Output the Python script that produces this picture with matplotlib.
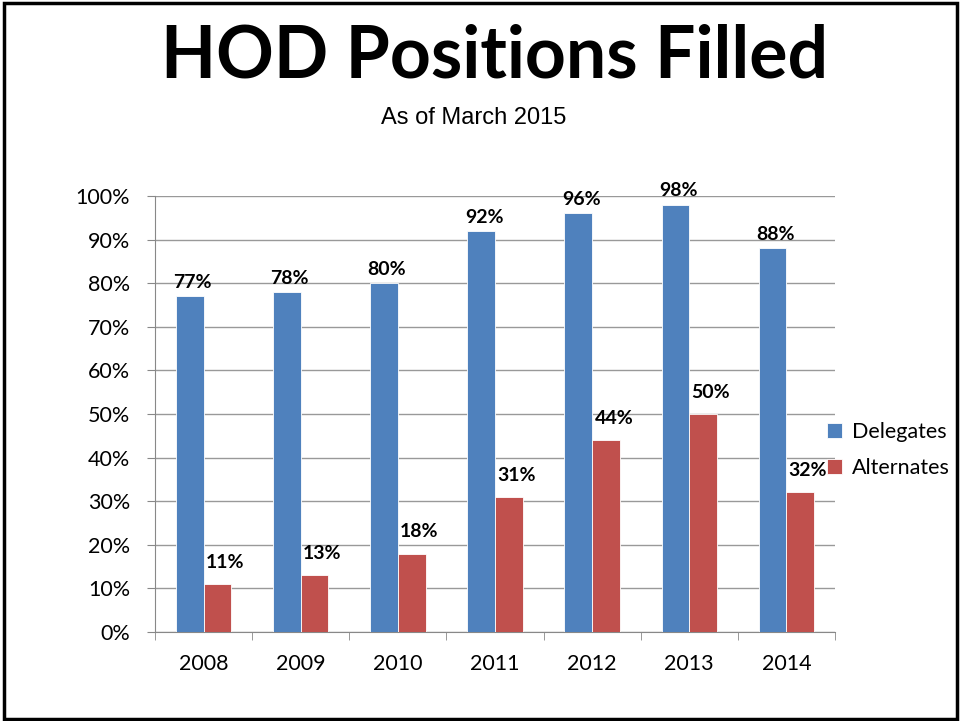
import numpy as np
import matplotlib
matplotlib.use('Agg')
import matplotlib.pyplot as plt
from matplotlib.patches import Rectangle

years = ['2008', '2009', '2010', '2011', '2012', '2013', '2014']
delegates = [77, 78, 80, 92, 96, 98, 88]
alternates = [11, 13, 18, 31, 44, 50, 32]

plt.rcParams['font.family'] = ['Lato', 'DejaVu Sans']

fig = plt.figure(figsize=(9.6, 7.21), dpi=100)
fig.patches.append(Rectangle((0.004, 0.003), 0.993, 0.993, transform=fig.transFigure,
                             fill=False, edgecolor='black', linewidth=2.5))

ax = fig.add_axes([155/960, 1-632/721, 680/960, 436/721])
x = np.arange(len(years))
w = 0.285
b1 = ax.bar(x - w/2, delegates, w, color='#4F81BD', edgecolor='white', linewidth=0.6, label='Delegates', zorder=3)
b2 = ax.bar(x + w/2, alternates, w, color='#C0504D', edgecolor='white', linewidth=0.6, label='Alternates', zorder=3)

for rect, v in zip(b1, delegates):
    ax.text(rect.get_x() + rect.get_width()/2 + 0.03, v + 1.2, f'{v}%', ha='center', va='bottom',
            fontsize=14, fontweight='bold')
for rect, v in zip(b2, alternates):
    ax.text(rect.get_x() + rect.get_width()/2 + 0.08, v + 3, f'{v}%', ha='center', va='bottom',
            fontsize=14, fontweight='bold')

ax.set_xlim(-0.5, len(years) - 0.5)
ax.set_ylim(0, 100)
ax.set_yticks(range(0, 101, 10))
ax.set_yticklabels([f'{t}%' for t in range(0, 101, 10)], fontsize=15.5)
ax.set_xticks(x)
ax.set_xticklabels(years, fontsize=15.5)
ax.set_xticks(np.arange(-0.5, len(years)), minor=True)
ax.tick_params(axis='x', which='major', length=0, pad=16)
ax.tick_params(axis='x', which='minor', length=6, color='#888888')
ax.tick_params(axis='y', length=6, color='#888888', pad=12)
ax.yaxis.grid(True, color='#999999', linewidth=1, zorder=0)
ax.set_axisbelow(True)
for s in ['top', 'right']:
    ax.spines[s].set_visible(False)
for s in ['left', 'bottom']:
    ax.spines[s].set_color('#888888')

leg = ax.legend(loc='center left', bbox_to_anchor=(0.96, 0.418), frameon=False, fontsize=15.5,
                handlelength=0.7, handleheight=0.7, handletextpad=0.45, labelspacing=0.75)

fig.text(495/960, 1-57/721, 'HOD Positions Filled', ha='center', va='center',
         fontsize=51.5, fontweight='bold')
fig.text(474/960, 1-118/721, 'As of March 2015', ha='center', va='center',
         fontsize=17, family='Liberation Sans')

fig.savefig('out.png', dpi=100)
